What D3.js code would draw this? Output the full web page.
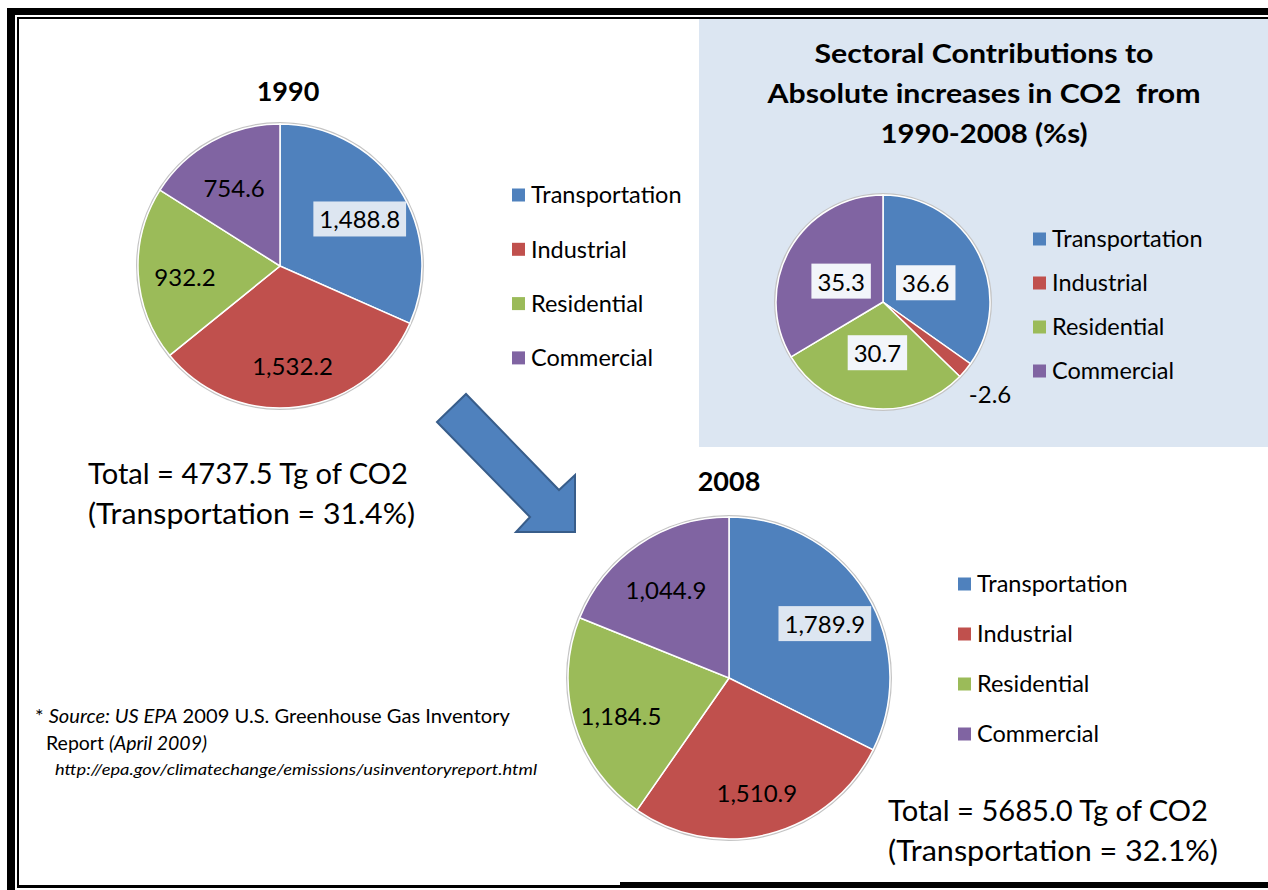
<!DOCTYPE html>
<html>
<head>
<meta charset="utf-8">
<script src="https://cdn.jsdelivr.net/npm/d3@7"></script>
<style>
  body { margin: 0; background: #fff; }
  text { font-family: Lato, "Open Sans", sans-serif; fill: #000; white-space: pre; }
</style>
</head>
<body>
<div id="chart-area"></div>
<script>
/*
*    CO2 by sector, 1990 vs 2008
*/

// data
var sectors = ["Transportation", "Industrial", "Residential", "Commercial"];
var values1990 = [1488.8, 1532.2, 932.2, 754.6];
var values2008 = [1789.9, 1510.9, 1184.5, 1044.9];
var shareIncrease = [36.6, -2.6, 30.7, 35.3];
var totals1990 = ["Total = 4737.5 Tg of CO2", "(Transportation = 31.4%)"];
var totals2008 = ["Total = 5685.0 Tg of CO2", "(Transportation = 32.1%)"];
var insetTitle = ["Sectoral Contributions to", "Absolute increases in CO2  from", "1990-2008 (%s)"];

var width = 1268, height = 890;

var color = d3.scaleOrdinal()
    .domain(sectors)
    .range(["#4f81bd", "#c0504d", "#9bbb59", "#8064a2"]);

var locale = d3.formatLocale({ decimal: ".", thousands: ",", grouping: [3], currency: ["$", ""], minus: "-" });
var fmtBig = locale.format(",.1f");
var fmtPct = locale.format(".1f");

var svg = d3.select("#chart-area")
    .append("svg")
    .attr("width", width)
    .attr("height", height);

svg.append("rect").attr("width", width).attr("height", height).attr("fill", "#fff");

// inset background
svg.append("rect")
    .attr("x", 699).attr("y", 19)
    .attr("width", width - 699).attr("height", 428)
    .attr("fill", "#dce6f2");

// frame
svg.append("rect").attr("x", 7).attr("y", 8).attr("width", width - 7).attr("height", 7).attr("fill", "#000");
svg.append("rect").attr("x", 7).attr("y", 8).attr("width", 8).attr("height", height - 8).attr("fill", "#000");
svg.append("rect").attr("x", 17).attr("y", 17).attr("width", width - 17).attr("height", 2).attr("fill", "#000");
svg.append("rect").attr("x", 17).attr("y", 17).attr("width", 2).attr("height", 870).attr("fill", "#000");
svg.append("rect").attr("x", 17).attr("y", 885).attr("width", width - 17).attr("height", 3).attr("fill", "#000");
svg.append("rect").attr("x", 620).attr("y", 882).attr("width", width - 620).attr("height", 6).attr("fill", "#000");

function drawPie(vals, opt) {
    var pie = d3.pie().sort(null).value(function(d){ return Math.abs(d); });
    var arcs = pie(vals);
    var arc = d3.arc().innerRadius(0).outerRadius(opt.r);

    var g = svg.append("g")
        .attr("transform", "translate(" + opt.cx + "," + opt.cy + ")");

    // soft edge
    g.append("circle")
        .attr("r", opt.r + 1)
        .attr("fill", "none")
        .attr("stroke", "#c4c4c4")
        .attr("stroke-width", 2);

    g.selectAll("path.slice")
        .data(arcs)
        .join("path")
        .attr("class", "slice")
        .attr("d", arc)
        .attr("fill", function(d, i){ return color(sectors[i]); })
        .attr("stroke", "#fff")
        .attr("stroke-width", 1.5);

    // data labels
    arcs.forEach(function(d, i) {
        var k = opt.outside.indexOf(i) >= 0 ? opt.outK : opt.labelK;
        var la = d3.arc().innerRadius(opt.r * k).outerRadius(opt.r * k);
        var c = la.centroid(d);
        var lg = g.append("g").attr("transform", "translate(" + c[0] + "," + (c[1] + opt.dy) + ")");
        var t = lg.append("text")
            .attr("text-anchor", "middle")
            .attr("dy", "0.35em")
            .attr("font-size", "24px")
            .text(opt.fmt(d.data));
        if (opt.boxed.indexOf(i) >= 0) {
            var bb = t.node().getBBox();
            lg.insert("rect", "text")
                .attr("x", bb.x - 6)
                .attr("y", bb.y - 3)
                .attr("width", bb.width + 12)
                .attr("height", bb.height + 6)
                .attr("fill", opt.boxFill);
        }
    });

    // legend
    var leg = svg.append("g")
        .attr("transform", "translate(" + opt.legX + "," + opt.legY + ")");
    sectors.forEach(function(s, i) {
        var row = leg.append("g").attr("transform", "translate(0," + (i * opt.legStep) + ")");
        row.append("rect")
            .attr("x", 0).attr("y", -6.5)
            .attr("width", 13).attr("height", 13)
            .attr("fill", color(s));
        row.append("text")
            .attr("x", 19)
            .attr("dy", "0.36em")
            .attr("font-size", "23.5px")
            .attr("fill", "#262626")
            .text(s);
    });
}

// 1990
svg.append("text")
    .attr("x", 288).attr("y", 101)
    .attr("text-anchor", "middle")
    .attr("font-size", "27px").attr("font-weight", "bold")
    .text("1990");
drawPie(values1990, { cx: 280, cy: 266, r: 142, labelK: 0.67, outK: 1.3, dy: 6, boxed: [0], outside: [],
    boxFill: "#dde6f1", fmt: fmtBig, legX: 512, legY: 195, legStep: 54.3 });

// 2008
svg.append("text")
    .attr("x", 729).attr("y", 491)
    .attr("text-anchor", "middle")
    .attr("font-size", "27px").attr("font-weight", "bold")
    .text("2008");
drawPie(values2008, { cx: 729, cy: 678, r: 161, labelK: 0.7, outK: 1.3, dy: 6, boxed: [0], outside: [],
    boxFill: "#dde6f1", fmt: fmtBig, legX: 958, legY: 584, legStep: 50 });

// inset
var insetLens = [339, 433, 207];
insetTitle.forEach(function(s, i) {
    svg.append("text")
        .attr("x", 984).attr("y", 63 + i * 40)
        .attr("text-anchor", "middle")
        .attr("font-size", "27px").attr("font-weight", "bold")
        .attr("textLength", insetLens[i])
        .attr("lengthAdjust", "spacingAndGlyphs")
        .text(s);
});
drawPie(shareIncrease, { cx: 883, cy: 302, r: 107, labelK: 0.45, outK: 1.3, dy: 4, boxed: [0, 2, 3], outside: [1],
    boxFill: "#f2f5fa", fmt: fmtPct, legX: 1033, legY: 239, legStep: 44 });

// totals
function drawTotals(lines, x, y, lens) {
    lines.forEach(function(s, i) {
        svg.append("text")
            .attr("x", x).attr("y", y + i * 40)
            .attr("font-size", "28px")
            .attr("textLength", lens[i])
            .attr("lengthAdjust", "spacingAndGlyphs")
            .text(s);
    });
}
drawTotals(totals1990, 88, 484, [320, 327]);
drawTotals(totals2008, 888, 821, [320, 330]);

// arrow
svg.append("path")
    .attr("d", "M437,422 L466,394 L559,490 L575,475 L575,532 L516,532 L530,517 Z")
    .attr("fill", "#4f81bd")
    .attr("stroke", "#385d8a")
    .attr("stroke-width", 2)
    .attr("stroke-linejoin", "miter");

// source note
var src1 = svg.append("text").attr("x", 35).attr("y", 723).attr("font-size", "19.5px")
    .attr("textLength", 475).attr("lengthAdjust", "spacingAndGlyphs");
src1.append("tspan").text("* ");
src1.append("tspan").attr("font-style", "italic").text("Source: US EPA");
src1.append("tspan").text(" 2009 U.S. Greenhouse Gas Inventory");
var src2 = svg.append("text").attr("x", 46).attr("y", 750).attr("font-size", "19.5px");
src2.append("tspan").text("Report ");
src2.append("tspan").attr("font-style", "italic").text("(April 2009)");
svg.append("text")
    .attr("x", 55).attr("y", 775)
    .attr("font-size", "16px")
    .attr("font-style", "italic")
    .attr("textLength", 482)
    .attr("lengthAdjust", "spacingAndGlyphs")
    .text("http://epa.gov/climatechange/emissions/usinventoryreport.html");
</script>
</body>
</html>
